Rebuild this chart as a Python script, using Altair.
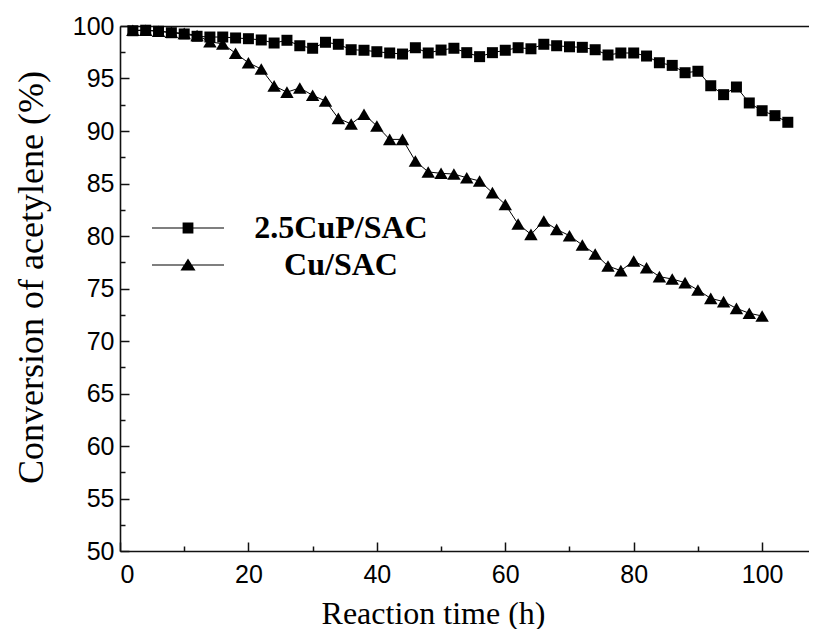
import altair as alt
import pandas as pd

# ---- data ----
series_names = ["2.5CuP/SAC", "Cu/SAC"]

time_cup = [2, 4, 6, 8, 10, 12, 14, 16, 18, 20, 22, 24, 26, 28, 30, 32, 34, 36, 38, 40,
            42, 44, 46, 48, 50, 52, 54, 56, 58, 60, 62, 64, 66, 68, 70, 72, 74, 76, 78, 80,
            82, 84, 86, 88, 90, 92, 94, 96, 98, 100, 102, 104]
conv_cup = [99.55, 99.6, 99.5, 99.36, 99.24, 99.02, 98.95, 98.95, 98.86, 98.79,
            98.67, 98.38, 98.64, 98.12, 97.88, 98.45, 98.26, 97.74, 97.69, 97.55,
            97.43, 97.33, 97.93, 97.43, 97.71, 97.88, 97.46, 97.08, 97.46, 97.69,
            97.93, 97.83, 98.26, 98.12, 98.02, 97.97, 97.74, 97.24, 97.43, 97.43,
            97.14, 96.5, 96.25, 95.55, 95.69, 94.31, 93.46, 94.19, 92.67, 91.93,
            91.46, 90.83]

time_cu = [2, 4, 6, 8, 10, 12, 14, 16, 18, 20, 22, 24, 26, 28, 30, 32, 34, 36, 38, 40,
           42, 44, 46, 48, 50, 52, 54, 56, 58, 60, 62, 64, 66, 68, 70, 72, 74, 76, 78, 80,
           82, 84, 86, 88, 90, 92, 94, 96, 98, 100]
conv_cu = [99.6, 99.6, 99.5, 99.4, 99.3, 99.1, 98.5, 98.3, 97.4, 96.5,
           95.9, 94.3, 93.7, 94.1, 93.4, 92.86, 91.2, 90.67, 91.6, 90.48,
           89.2, 89.2, 87.14, 86.1, 85.97, 85.9, 85.55, 85.24, 84.13, 83.0,
           81.14, 80.16, 81.43, 80.63, 80.03, 79.14, 78.29, 77.14, 76.7, 77.62,
           76.98, 76.13, 75.9, 75.56, 74.86, 74.06, 73.75, 73.11, 72.64, 72.38]

x_labels = [0, 20, 40, 60, 80, 100]
x_minor = [0, 10, 20, 30, 40, 50, 60, 70, 80, 90, 100]
y_labels = [50, 55, 60, 65, 70, 75, 80, 85, 90, 95, 100]
y_minor = [50, 52.5, 55, 57.5, 60, 62.5, 65, 67.5, 70, 72.5, 75, 77.5, 80, 82.5,
           85, 87.5, 90, 92.5, 95, 97.5, 100]

df = pd.concat([
    pd.DataFrame({"t": time_cup, "conv": conv_cup, "series": series_names[0]}),
    pd.DataFrame({"t": time_cu, "conv": conv_cu, "series": series_names[1]}),
], ignore_index=True)

W, H = 689, 525
x_scale = alt.Scale(domain=[0, 107.3], nice=False, zero=False)
y_scale = alt.Scale(domain=[50, 100], nice=False, zero=False)

FRAME = "#111111"

# main axes (labels + titles + left/bottom lines)
lines = alt.Chart(df).mark_line(color="black", strokeWidth=1).encode(
    x=alt.X("t:Q", scale=x_scale, axis=alt.Axis(
        orient="bottom", values=x_labels, ticks=False, tickSize=0, labelPadding=11,
        labelFont="Liberation Sans", labelFontSize=25, labelColor="black",
        domainColor=FRAME, domainWidth=1.6, grid=False,
        title="Reaction time (h)", titleFont="Liberation Serif", titleFontSize=32,
        titleFontWeight="normal", titleColor="black", titleX=313, titleY=62,
        titleBaseline="middle", titleAlign="center")),
    y=alt.Y("conv:Q", scale=y_scale, axis=alt.Axis(
        orient="left", values=y_labels, ticks=False, tickSize=0, labelPadding=6,
        labelFont="Liberation Sans", labelFontSize=25, labelColor="black",
        domainColor=FRAME, domainWidth=1.6, grid=False,
        title="Conversion of acetylene (%)", titleFont="Liberation Serif",
        titleFontSize=36, titleFontWeight="normal", titleColor="black",
        titleAngle=270, titleX=-89, titleY=251, titleBaseline="middle",
        titleAlign="center")),
    detail="series:N",
)

# squares + inward ticks
squares = alt.Chart(df).transform_filter(
    alt.datum.series == series_names[0]
).mark_point(shape="square", filled=True, color="black", size=121, opacity=1).encode(
    x=alt.X("t:Q", scale=x_scale, axis=alt.Axis(
        orient="top", offset=-H, values=x_minor, labels=False, domain=False, grid=False,
        title=None, tickColor=FRAME, tickWidth=1.5,
        tickSize={"condition": {"test": "datum.value % 20 === 0", "value": 9}, "value": 5})),
    y=alt.Y("conv:Q", scale=y_scale, axis=alt.Axis(
        orient="right", offset=-W, values=y_minor, labels=False, domain=False, grid=False,
        title=None, tickColor=FRAME, tickWidth=1.5,
        tickSize={"condition": {"test": "datum.value % 5 === 0", "value": 9}, "value": 5})),
)

triangles = alt.Chart(df).transform_filter(
    alt.datum.series == series_names[1]
).mark_point(shape="triangle-up", filled=True, color="black", size=180, opacity=1).encode(
    x=alt.X("t:Q", scale=x_scale, axis=None),
    y=alt.Y("conv:Q", scale=y_scale, axis=None),
)

# legend layer (no marks drawn) + top frame line
sq_path = "M-2,-0.03H2V0.03H-2Z M-0.3,-0.3H0.3V0.3H-0.3Z"
tri_path = "M-2,-0.03H2V0.03H-2Z M0,-0.36L0.42,0.31H-0.42Z"
legend_layer = alt.Chart(df).transform_filter("false").mark_point(
    filled=True, color="black", opacity=1
).encode(
    x=alt.X("t:Q", scale=x_scale, axis=alt.Axis(
        orient="top", labels=False, ticks=False, domain=True, domainColor=FRAME,
        domainWidth=1.6, grid=False, title=None)),
    y=alt.Y("conv:Q", scale=y_scale, axis=None),
    shape=alt.Shape("series:N", scale=alt.Scale(domain=series_names, range=[sq_path, tri_path]),
                    legend=alt.Legend(
                        orient="none", legendX=50, legendY=184, title=None, padding=0,
                        symbolSize=1296, symbolFillColor="black", symbolStrokeWidth=0,
                        symbolOpacity=1, labelFont="Liberation Serif", labelFontSize=32,
                        labelFontWeight="bold", labelColor="black", labelAlign="center",
                        labelOffset=135, rowPadding=3, labelLimit=400)),
)

chart = alt.layer(lines, squares, triangles, legend_layer).resolve_axis(
    x="independent", y="independent"
).properties(
    width=W, height=H,
    autosize=alt.AutoSizeParams(type="none"),
    padding={"left": 112, "top": 18, "right": 0, "bottom": 78},
    background="white",
).configure_view(stroke=None)

chart.save("out.html", embed_options={"renderer": "svg", "actions": False})
